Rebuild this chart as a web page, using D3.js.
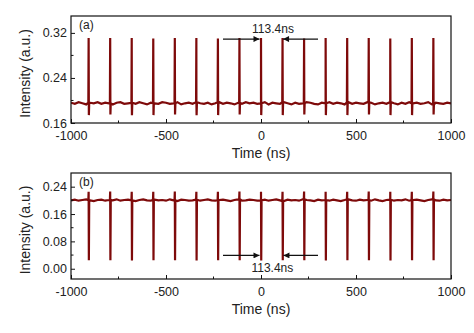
<!DOCTYPE html>
<html><head><meta charset="utf-8">
<script src="https://cdn.jsdelivr.net/npm/d3@7"></script>
<style>
html,body{margin:0;padding:0;background:#fff;}
svg{display:block;font-family:"Liberation Sans",Arial,sans-serif;}
</style></head>
<body><svg id="c" width="474" height="333"></svg>
<script>
// ---- data ----
const pulseTimes = [-907.2,-793.8,-680.4,-567.0,-453.6,-340.2,-226.8,-113.4,0,113.4,226.8,340.2,453.6,567.0,680.4,793.8,907.2];
const sampleTimes = [-1000,-980,-960,-940,-920,-900,-880,-860,-840,-820,-800,-780,-760,-740,-720,-700,-680,-660,-640,-620,-600,-580,-560,-540,-520,-500,-480,-460,-440,-420,-400,-380,-360,-340,-320,-300,-280,-260,-240,-220,-200,-180,-160,-140,-120,-100,-80,-60,-40,-20,0,20,40,60,80,100,120,140,160,180,200,220,240,260,280,300,320,340,360,380,400,420,440,460,480,500,520,540,560,580,600,620,640,660,680,700,720,740,760,780,800,820,840,860,880,900,920,940,960,980,1000];
const baselineA = [0.196,0.194,0.197,0.195,0.193,0.196,0.195,0.197,0.194,0.196,
0.195,0.193,0.196,0.197,0.194,0.195,0.196,0.194,0.197,0.195,
0.193,0.196,0.195,0.194,0.197,0.196,0.194,0.195,0.197,0.193,
0.195,0.196,0.194,0.197,0.195,0.194,0.196,0.193,0.195,0.197,
0.194,0.196,0.195,0.193,0.196,0.194,0.197,0.195,0.196,0.194,
0.195,0.197,0.193,0.196,0.195,0.194,0.197,0.195,0.193,0.196,
0.194,0.195,0.197,0.196,0.194,0.193,0.196,0.195,0.197,0.194,
0.196,0.195,0.193,0.197,0.194,0.196,0.195,0.194,0.197,0.196,
0.193,0.195,0.196,0.194,0.197,0.195,0.193,0.196,0.194,0.197,
0.195,0.196,0.194,0.195,0.197,0.193,0.196,0.195,0.194,0.196,0.195];
const baselineB = [0.200,0.202,0.199,0.201,0.203,0.200,0.198,0.201,0.202,0.199,
0.201,0.200,0.203,0.199,0.201,0.202,0.200,0.198,0.201,0.203,
0.200,0.199,0.202,0.200,0.201,0.199,0.203,0.200,0.198,0.202,
0.201,0.199,0.200,0.202,0.199,0.201,0.203,0.200,0.199,0.201,
0.202,0.200,0.198,0.201,0.203,0.199,0.200,0.202,0.201,0.199,
0.200,0.202,0.199,0.201,0.203,0.200,0.198,0.202,0.200,0.201,
0.199,0.203,0.201,0.200,0.198,0.202,0.200,0.201,0.199,0.202,
0.200,0.198,0.201,0.203,0.200,0.199,0.202,0.200,0.201,0.199,
0.203,0.200,0.198,0.201,0.202,0.199,0.201,0.200,0.203,0.199,
0.201,0.202,0.200,0.198,0.201,0.203,0.200,0.199,0.202,0.200,0.201];
const peaksA = [0.311,0.311,0.311,0.310,0.311,0.311,0.310,0.311,0.311,0.311,0.310,0.311,0.311,0.311,0.310,0.311,0.311];
const dipsA  = [0.174,0.175,0.174,0.174,0.175,0.174,0.174,0.175,0.174,0.174,0.175,0.174,0.174,0.175,0.174,0.174,0.175];
const peaksB = [0.225,0.226,0.225,0.225,0.226,0.225,0.225,0.226,0.225,0.225,0.226,0.225,0.225,0.226,0.225,0.225,0.226];
const dipsB  = [0.025,0.025,0.024,0.025,0.025,0.024,0.025,0.025,0.024,0.025,0.025,0.024,0.025,0.025,0.024,0.025,0.025];
const xTicks = [-1000,-500,0,500,1000];
const xMinor = [-750,-250,250,750];
const yTicksA = [0.16,0.24,0.32];
const yMinorA = [0.20,0.28];
const yTicksB = [0.00,0.08,0.16,0.24];
const yMinorB = [0.04,0.12,0.20];
const xDomain = [-1000,1000];
const yDomainA = [0.16,0.35];
const yDomainB = [-0.03,0.28];
const periodLabel = "113.4ns";
const arrowsA = {y:0.309, left:[-200,-8], right:[300,116], text:[63,0.328]};
const arrowsB = {y:0.039, left:[-200,-8], right:[300,118], text:[60,0.004]};

// ---- drawing ----
const svg = d3.select("#c");
const defs = svg.append("defs");
defs.append("marker").attr("id","ah").attr("viewBox","0 0 10 10").attr("refX",10).attr("refY",5)
  .attr("markerWidth",9).attr("markerHeight",6).attr("markerUnits","userSpaceOnUse").attr("orient","auto")
  .append("path").attr("d","M0,0L10,5L0,10z").attr("fill","#111");

const traceColor = "#7e0a0a";

function buildTrace(baseline, peaks, dips){
  const pts = sampleTimes.map((t,i)=>[t,baseline[i]]);
  pulseTimes.forEach((t,i)=>{
    const b = baseline[Math.round((t+1000)/20)];
    pts.push([t-1.5,b],[t,peaks[i]],[t+1.2,dips[i]],[t+3,b]);
  });
  pts.sort((a,b)=>a[0]-b[0]);
  return pts;
}

function panel(cfg){
  const {left,right,top,bottom} = cfg;
  const x = d3.scaleLinear().domain(xDomain).range([left,right]);
  const y = d3.scaleLinear().domain(cfg.yDomain).range([bottom,top]);
  const g = svg.append("g");
  const cid = "clip"+cfg.id;
  defs.append("clipPath").attr("id",cid).append("rect").attr("x",left).attr("y",top).attr("width",right-left).attr("height",bottom-top);
  const line = d3.line().x(d=>x(d[0])).y(d=>y(d[1]));
  g.append("path").attr("clip-path",`url(#${cid})`).datum(cfg.trace).attr("d",line)
    .attr("fill","none").attr("stroke",traceColor).attr("stroke-width",2.2).attr("stroke-linejoin","miter");
  // frame
  g.append("rect").attr("x",left).attr("y",top).attr("width",right-left).attr("height",bottom-top)
    .attr("fill","none").attr("stroke","#111").attr("stroke-width",1.2);
  // x axis (ticks inward)
  const xa = g.append("g").attr("transform",`translate(0,${bottom})`)
    .call(d3.axisBottom(x).tickValues(xTicks).tickSizeInner(-4).tickSizeOuter(0).tickPadding(6).tickFormat(d=>String(d)));
  xa.select(".domain").remove();
  xa.selectAll("text").attr("font-size",12.5).attr("fill","#222").attr("dy","0.95em").attr("y",5);
  xa.selectAll("line").attr("stroke","#111");
  g.selectAll(".xm"+cfg.id).data(xMinor).enter().append("line")
    .attr("x1",d=>x(d)).attr("x2",d=>x(d)).attr("y1",bottom).attr("y2",bottom-2.5).attr("stroke","#111");
  // y axis
  const ya = g.append("g").attr("transform",`translate(${left},0)`)
    .call(d3.axisLeft(y).tickValues(cfg.yTicks).tickSizeInner(-4).tickSizeOuter(0).tickPadding(5).tickFormat(d3.format(".2f")));
  ya.select(".domain").remove();
  ya.selectAll("text").attr("font-size",12.5).attr("fill","#222").attr("x",-4);
  ya.selectAll("line").attr("stroke","#111");
  g.selectAll(".ym"+cfg.id).data(cfg.yMinor).enter().append("line")
    .attr("y1",d=>y(d)).attr("y2",d=>y(d)).attr("x1",left).attr("x2",left+2.5).attr("stroke","#111");
  // titles
  g.append("text").attr("x",(left+right)/2).attr("y",bottom+35).attr("text-anchor","middle")
    .attr("font-size",14).attr("fill","#222").text("Time (ns)");
  g.append("text").attr("transform",`translate(30,${(top+bottom)/2+4}) rotate(-90)`).attr("text-anchor","middle")
    .attr("font-size",14).attr("fill","#222").text("Intensity (a.u.)");
  // panel label
  g.append("text").attr("x",left+8).attr("y",top+13).attr("font-size",12).attr("fill","#222").text(cfg.label);
  // arrows
  const a = cfg.arrows;
  g.append("line").attr("x1",x(a.left[0])).attr("x2",x(a.left[1])).attr("y1",y(a.y)).attr("y2",y(a.y))
    .attr("stroke","#111").attr("stroke-width",1.2).attr("marker-end","url(#ah)");
  g.append("line").attr("x1",x(a.right[0])).attr("x2",x(a.right[1])).attr("y1",y(a.y)).attr("y2",y(a.y))
    .attr("stroke","#111").attr("stroke-width",1.2).attr("marker-end","url(#ah)");
  g.append("text").attr("x",x(a.text[0])).attr("y",y(a.text[1])).attr("dy","0.35em").attr("text-anchor","middle")
    .attr("font-size",12).attr("fill","#222").text(periodLabel);
}

panel({id:"a",left:71,right:451,top:16,bottom:123,yDomain:yDomainA,yTicks:yTicksA,yMinor:yMinorA,
  trace:buildTrace(baselineA,peaksA,dipsA),label:"(a)",arrows:arrowsA});
panel({id:"b",left:71,right:451,top:173,bottom:279,yDomain:yDomainB,yTicks:yTicksB,yMinor:yMinorB,
  trace:buildTrace(baselineB,peaksB,dipsB),label:"(b)",arrows:arrowsB});
</script></body></html>
